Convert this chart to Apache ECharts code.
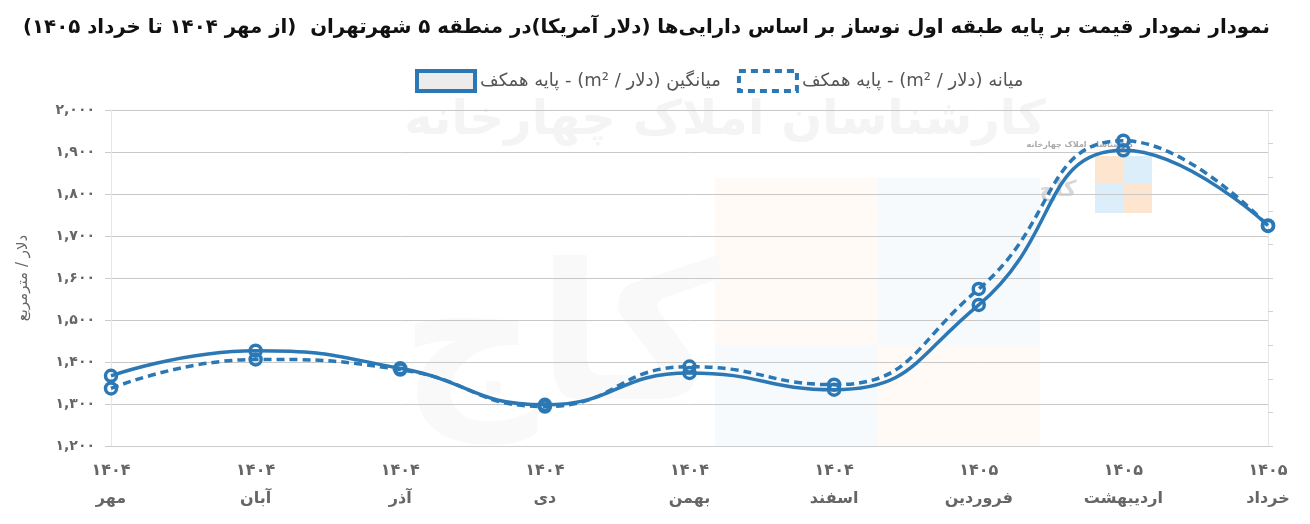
<!DOCTYPE html>
<html>
<head>
<meta charset="utf-8">
<script src="https://cdn.jsdelivr.net/npm/echarts@6/dist/echarts.min.js"></script>
<style>
  html, body { margin: 0; padding: 0; background: #fff; }
  #chart { width: 1310px; height: 524px; direction: rtl; }
</style>
</head>
<body>
<div id="chart"></div>
<script>
const YEARS = ['1404', '1404', '1404', '1404', '1404', '1404', '1405', '1405', '1405'];
const MONTHS = ['مهر', 'آبان', 'آذر', 'دی', 'بهمن', 'اسفند', 'فروردین', 'اردیبهشت', 'خرداد'];
const MEAN_VALUES = [1367, 1427, 1385, 1298, 1374, 1334, 1536, 1904, 1725];
const MEDIAN_VALUES = [1337, 1406, 1382, 1294, 1389, 1346, 1574, 1927, 1724];

const MEAN_NAME = 'میانگین (دلار / m²) - پایه همکف';
const MEDIAN_NAME = 'میانه (دلار / m²) - پایه همکف';
const TITLE = 'نمودار نمودار قیمت بر پایه طبقه اول نوساز بر اساس دارایی‌ها (دلار آمریکا)در منطقه ۵ شهرتهران  (از مهر ۱۴۰۴ تا خرداد ۱۴۰۵)';

const BLUE = '#2b78b5';
const FONT = 'DejaVu Sans';

function toFa(str) {
  return String(str).replace(/[0-9]/g, (d) => '۰۱۲۳۴۵۶۷۸۹'[d]);
}

const categories = YEARS.map((y, i) => `${toFa(y)}\n${MONTHS[i]}`);

const chart = echarts.init(document.getElementById('chart'));

chart.setOption({
  backgroundColor: '#fff',
  animation: false,
  title: {
    text: TITLE,
    left: 18,
    top: 13,
    textStyle: { fontFamily: FONT, fontSize: 19.8, fontWeight: 'bold', color: '#111' },
  },
  legend: {
    top: 64,
    left: 410,
    itemWidth: 58,
    itemHeight: 20,
    itemGap: 16,
    textStyle: { fontFamily: FONT, fontSize: 18, color: '#555' },
    data: [
      {
        name: MEAN_NAME,
        icon: 'rect',
        itemStyle: { color: '#ececec', borderColor: BLUE, borderWidth: 4, borderType: 'solid' },
      },
      {
        name: MEDIAN_NAME,
        icon: 'rect',
        itemStyle: { color: '#ffffff', borderColor: BLUE, borderWidth: 4, borderType: [7, 5] },
      },
    ],
  },
  graphic: {
    elements: [
      { type: 'rect', silent: true, z: -10, shape: { x: 715, y: 178, width: 163, height: 167 }, style: { fill: '#fffaf5' } },
      { type: 'rect', silent: true, z: -10, shape: { x: 878, y: 178, width: 162, height: 167 }, style: { fill: '#f6fafd' } },
      { type: 'rect', silent: true, z: -10, shape: { x: 715, y: 345, width: 163, height: 101 }, style: { fill: '#f6fafd' } },
      { type: 'rect', silent: true, z: -10, shape: { x: 878, y: 345, width: 162, height: 101 }, style: { fill: '#fffaf5' } },
      { type: 'text', silent: true, z: -10, style: { x: 725, y: 122, text: 'کارشناسان املاک چهارخانه', font: `bold 48px "${FONT}"`, fill: '#f4f4f4', align: 'center', verticalAlign: 'middle' } },
      { type: 'text', silent: true, z: -10, style: { x: 560, y: 350, text: 'کاج', font: `bold 190px "${FONT}"`, fill: '#f9f9f9', align: 'center', verticalAlign: 'middle' } },
      { type: 'rect', silent: true, z: -10, shape: { x: 1095, y: 156, width: 28, height: 28 }, style: { fill: '#fde5d0' } },
      { type: 'rect', silent: true, z: -10, shape: { x: 1123, y: 156, width: 29, height: 28 }, style: { fill: '#dceefa' } },
      { type: 'rect', silent: true, z: -10, shape: { x: 1095, y: 184, width: 28, height: 29 }, style: { fill: '#dceefa' } },
      { type: 'rect', silent: true, z: -10, shape: { x: 1123, y: 184, width: 29, height: 29 }, style: { fill: '#fde5d0' } },
      { type: 'text', silent: true, z: -10, style: { x: 1080, y: 145, text: 'کارشناسان املاک چهارخانه', font: `bold 8px "${FONT}"`, fill: '#aaa', align: 'center', verticalAlign: 'middle' } },
      { type: 'text', silent: true, z: -10, style: { x: 1058, y: 190, text: 'کاج', font: `bold 22px "${FONT}"`, fill: '#d8d8d8', align: 'center', verticalAlign: 'middle' } },
    ],
  },
  grid: { left: 111, right: 42, top: 110, bottom: 78 },
  xAxis: {
    type: 'category',
    boundaryGap: false,
    data: categories,
    axisLine: { lineStyle: { color: '#cccccc' } },
    axisTick: { show: false },
    axisLabel: {
      margin: 11,
      color: '#666',
      fontFamily: FONT,
      fontSize: 16,
      fontWeight: 'bold',
      lineHeight: 28,
    },
  },
  yAxis: [
    {
      type: 'value',
      min: 1200,
      max: 2000,
      interval: 100,
      name: 'دلار / مترمربع',
      nameLocation: 'middle',
      nameRotate: 90,
      nameGap: 80,
      nameTextStyle: { fontFamily: FONT, fontSize: 15, color: '#666' },
      axisLine: { show: true, lineStyle: { color: '#e6e6e6' } },
      axisTick: { show: true, length: 6, lineStyle: { color: '#cccccc' } },
      axisLabel: {
        margin: 16,
        color: '#666',
        fontFamily: FONT,
        fontSize: 14,
        fontWeight: 'bold',
        formatter: (v) => toFa(v.toLocaleString('en-US')),
      },
      splitLine: { lineStyle: { color: '#c8c8c8' } },
    },
    {
      type: 'value',
      position: 'right',
      min: 0,
      max: 10,
      interval: 1,
      axisLine: { show: true, lineStyle: { color: '#e6e6e6' } },
      axisTick: { show: true, length: 5, lineStyle: { color: '#d0d0d0' } },
      axisLabel: { show: false },
      splitLine: { show: false },
    },
  ],
  series: [
    {
      name: MEAN_NAME,
      type: 'line',
      smooth: 0.5,
      data: MEAN_VALUES,
      symbol: 'circle',
      symbolSize: 11,
      lineStyle: { color: BLUE, width: 3.5 },
      itemStyle: { color: 'rgba(255,255,255,0)', borderColor: BLUE, borderWidth: 3.5 },
      z: 3,
    },
    {
      name: MEDIAN_NAME,
      type: 'line',
      smooth: 0.5,
      data: MEDIAN_VALUES,
      symbol: 'circle',
      symbolSize: 11,
      lineStyle: { color: BLUE, width: 3.5, type: [8, 5] },
      itemStyle: { color: 'rgba(255,255,255,0)', borderColor: BLUE, borderWidth: 3.5 },
      z: 2,
    },
  ],
});

window.addEventListener('resize', () => chart.resize());
</script>
</body>
</html>
